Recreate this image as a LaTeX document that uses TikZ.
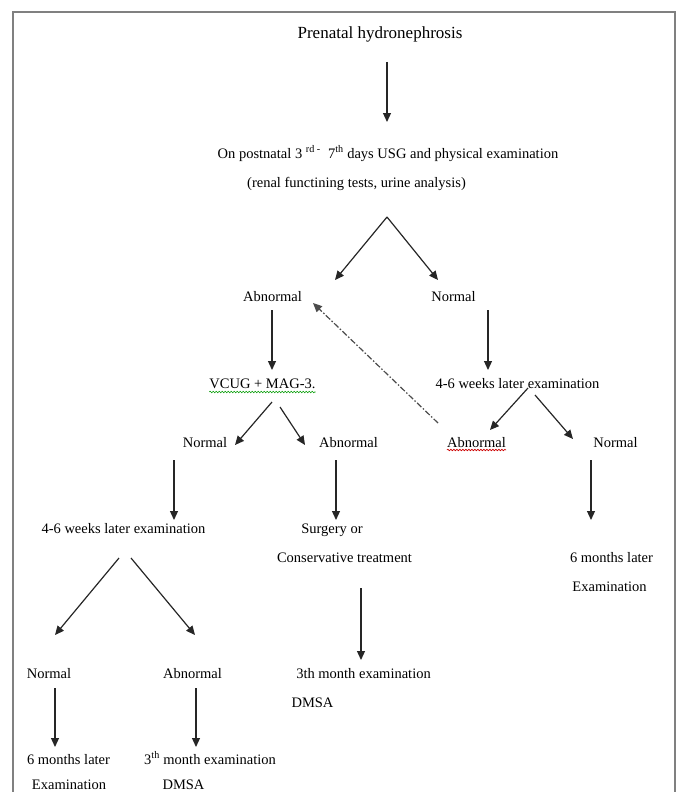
\documentclass[tikz,border=0pt]{standalone}
\usepackage{fontspec}
\setmainfont{Liberation Serif}
\usetikzlibrary{arrows.meta,decorations.pathmorphing}
\begin{document}
\begin{tikzpicture}[x=1pt, y=-1pt,
	txt/.style={anchor=base, inner sep=0pt, font=\fontsize{14.5}{17}\selectfont},
	ttl/.style={anchor=base, inner sep=0pt, font=\fontsize{17}{20}\selectfont},
	arr/.style={-{Triangle[length=9pt,width=8pt]}, line width=1.2pt, draw=black!85},
	back/.style={arr, draw=black!70, dash pattern=on 6pt off 2pt on 1.5pt off 2pt},
	frame/.style={draw=black!50, line width=1.4pt},
	spell/.style={decorate, decoration={snake, segment length=3pt, amplitude=0.8pt}, line width=0.6pt}]
	\useasboundingbox (0,0) rectangle (678,792);
	\draw[frame] (13,800) -- (13,12) -- (675,12) -- (675,800);
	\node[ttl] (pre) at (380,38) {Prenatal hydronephrosis};
	\node[txt] (post1) at (388,158) {On postnatal 3 \textsuperscript{rd -}\ \ 7\textsuperscript{th} days USG and physical examination};
	\node[txt] (post2) at (356.5,187) {(renal functining tests, urine analysis)};
	\node[txt] (abn1) at (272.5,301) {Abnormal};
	\node[txt] (nor1) at (453.5,301) {Normal};
	\node[txt] (vcug) at (262.5,388) {VCUG + MAG-3.};
	\node[txt] (wk1) at (517.5,388) {4-6 weeks later examination};
	\node[txt] (nor2) at (205,447) {Normal};
	\node[txt] (abn2) at (348.5,447) {Abnormal};
	\node[txt] (abn3) at (476.5,447) {Abnormal};
	\node[txt] (nor3) at (615.5,447) {Normal};
	\node[txt] (wk2) at (123.5,533) {4-6 weeks later examination};
	\node[txt] (surg) at (332,533) {Surgery or};
	\node[txt] (cons) at (344.5,562) {Conservative treatment};
	\node[txt] (six1) at (611.5,562) {6 months later};
	\node[txt] (exam1) at (609.5,591) {Examination};
	\node[txt] (nor4) at (49,678) {Normal};
	\node[txt] (abn4) at (192.5,678) {Abnormal};
	\node[txt] (m3a) at (363.5,678) {3th month examination};
	\node[txt] (dmsa1) at (312.5,707) {DMSA};
	\node[txt] (six2) at (68.5,764) {6 months later};
	\node[txt] (exam2) at (69,789) {Examination};
	\node[txt] (m3b) at (210,764) {3\textsuperscript{th} month examination};
	\node[txt] (dmsa2) at (183.5,789) {DMSA};
	% spelling marks
	\draw[spell, green!60!black] ([yshift=-4pt]vcug.base west) -- ([yshift=-4pt]vcug.base east);
	\draw[spell, red!80!black] ([yshift=-3pt]abn3.base west) -- ([yshift=-3pt]abn3.base east);
	% arrows
	\draw[arr] ([shift={(7,24)}]pre.base) -- ([shift={(-1,-36)}]post1.base);
	\draw[arr] ([shift={(30.5,30)}]post2.base) -- ([shift={(62.5,-21)}]abn1.base);
	\draw[arr] ([shift={(30.5,30)}]post2.base) -- ([shift={(-15.5,-21)}]nor1.base);
	\draw[arr] ([shift={(-0.5,9)}]abn1.base) -- ([shift={(9.5,-18)}]vcug.base);
	\draw[arr] ([shift={(34.5,9)}]nor1.base) -- ([shift={(-29.5,-18)}]wk1.base);
	\draw[arr] ([shift={(9.5,14)}]vcug.base) -- ([shift={(30,-2)}]nor2.base);
	\draw[arr] ([shift={(17.5,19)}]vcug.base) -- ([shift={(-43.5,-2)}]abn2.base);
	\draw[arr] ([shift={(10.5,0)}]wk1.base) -- ([shift={(13.5,-17)}]abn3.base);
	\draw[arr] ([shift={(17.5,7)}]wk1.base) -- ([shift={(-42.5,-8)}]nor3.base);
	\draw[back] ([shift={(-38.5,-24)}]abn3.base) -- ([shift={(40.5,2)}]abn1.base);
	\draw[arr] ([shift={(-31,13)}]nor2.base) -- ([shift={(50.5,-13)}]wk2.base);
	\draw[arr] ([shift={(-12.5,13)}]abn2.base) -- ([shift={(4,-13)}]surg.base);
	\draw[arr] ([shift={(-24.5,13)}]nor3.base) -- ([shift={(-20.5,-42)}]six1.base);
	\draw[arr] ([shift={(-4.5,25)}]wk2.base) -- ([shift={(6,-43)}]nor4.base);
	\draw[arr] ([shift={(7.5,25)}]wk2.base) -- ([shift={(2.5,-43)}]abn4.base);
	\draw[arr] ([shift={(16.5,26)}]cons.base) -- ([shift={(-2.5,-18)}]m3a.base);
	\draw[arr] ([shift={(6,10)}]nor4.base) -- ([shift={(-13.5,-17)}]six2.base);
	\draw[arr] ([shift={(3.5,10)}]abn4.base) -- ([shift={(-14,-17)}]m3b.base);
\end{tikzpicture}
\end{document}
